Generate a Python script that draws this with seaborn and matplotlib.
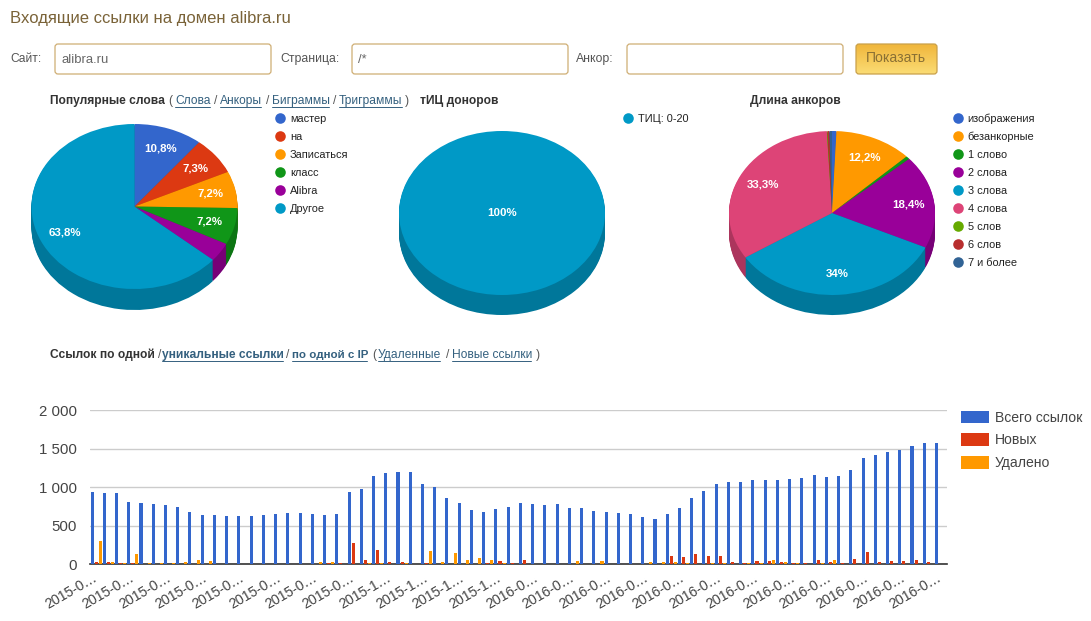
import numpy as np
import pandas as pd
import seaborn as sns
import matplotlib
matplotlib.use("Agg")
import matplotlib.pyplot as plt
from matplotlib.colors import to_rgb, LinearSegmentedColormap
from matplotlib.patches import FancyBboxPatch

W, H = 1091, 621

# pies
words_labels = ["мастер", "на", "Записаться", "класс", "Alibra", "Другое"]
words_values = [10.8, 7.3, 7.2, 7.2, 3.7, 63.8]
words_colors = ["#3366cc", "#dc3912", "#ff9900", "#109618", "#990099", "#0099c6"]

tic_labels = ["ТИЦ: 0-20"]
tic_values = [100]
tic_colors = ["#0099c6"]

length_labels = ["изображения", "безанкорные", "1 слово", "2 слова", "3 слова",
                 "4 слова", "5 слов", "6 слов", "7 и более"]
length_values = [0.7, 12.2, 0.6, 18.4, 34, 33.3, 0.1, 0.3, 0.4]
length_colors = ["#3366cc", "#ff9900", "#109618", "#990099", "#0099c6",
                 "#dd4477", "#66aa00", "#b82e2e", "#316395"]

# bars
total_links = [940, 926, 926, 810, 797, 784, 770, 745, 680, 640, 640, 628, 628, 628,
               640, 654, 667, 667, 654, 640, 654, 940, 978, 1147, 1186, 1199, 1199, 1043,
               1004, 861, 797, 706, 680, 719, 745, 797, 784, 770, 784, 732, 732, 693,
               680, 667, 654, 615, 589, 654, 732, 861, 952, 1043, 1069, 1069, 1095, 1095,
               1095, 1108, 1121, 1160, 1134, 1147, 1225, 1381, 1420, 1459, 1485, 1537, 1576, 1576]
new_links = [30, 30, 18, 20, 3, 2, 8, 0, 0, 0, 0, 0, 0, 0,
             0, 8, 0, 0, 0, 18, 15, 280, 55, 190, 30, 28, 10, 15,
             0, 0, 0, 0, 20, 45, 18, 55, 0, 0, 6, 0, 0, 0,
             0, 0, 0, 0, 5, 105, 95, 135, 108, 108, 30, 22, 40, 40,
             28, 18, 18, 55, 35, 15, 70, 160, 35, 40, 40, 55, 28, 0]
removed_links = [303, 30, 22, 135, 22, 12, 15, 30, 55, 42, 0, 0, 4, 0,
                 8, 0, 4, 0, 25, 30, 0, 0, 15, 15, 0, 15, 5, 170,
                 28, 145, 55, 80, 55, 15, 0, 8, 5, 6, 6, 40, 0, 40,
                 8, 8, 10, 28, 25, 28, 22, 0, 12, 12, 0, 22, 15, 55,
                 28, 12, 5, 20, 55, 0, 0, 0, 0, 8, 8, 0, 0, 0]
series_names = ["Всего ссылок", "Новых", "Удалено"]
series_colors = ["#3366cc", "#dc3912", "#ff9900"]
tick_labels = ["2015-0…"] * 8 + ["2015-1…"] * 4 + ["2016-0…"] * 12
y_ticks = [0, 500, 1000, 1500, 2000]
y_labels = ["0", "500", "1 000", "1 500", "2 000"]

sns.set_style("white")
plt.rcParams["font.family"] = ["Liberation Sans", "DejaVu Sans"]

fig = plt.figure(figsize=(W / 100, H / 100), dpi=100)


def px(size):
    return size * 0.72


def axes_px(x0, y0, x1, y1):
    # pixel box with y going down, like the page
    return fig.add_axes([x0 / W, 1 - y1 / H, (x1 - x0) / W, (y1 - y0) / H])


page = axes_px(0, 0, W, H)
page.set_xlim(0, W)
page.set_ylim(H, 0)
page.axis("off")


def label(x, y, s, size=12, color="#555555", weight="normal", ha="left"):
    return page.text(x, y, s, fontsize=px(size), color=color, fontweight=weight, ha=ha, va="center")


def link(x, y, s, size=12, weight="normal"):
    t = label(x, y, s, size, "#34607f", weight)
    box = t.get_window_extent(fig.canvas.get_renderer())
    page.plot([x, x + box.width - 1], [y + 5.5, y + 5.5], color="#34607f", lw=0.7)


def field(x0, x1, text=""):
    page.add_patch(FancyBboxPatch((x0 + 3, 47), x1 - x0 - 6, 24, boxstyle="round,pad=3",
                                  fc="white", ec="#cfae74", lw=0.9))
    if text:
        label(x0 + 6, 60, text, 13, "#666666")


def pie_3d(cx, cy, ry, depth, values, colors):
    rx = 103
    ax = axes_px(cx - rx, cy - ry, cx + rx, cy + ry + depth)
    dark = [tuple(c * 0.78 for c in to_rgb(col)) for col in colors]
    props = dict(startangle=90, counterclock=False, wedgeprops=dict(lw=0))
    # side of the pie: same slices stacked downwards in a darker colour
    for shift in np.arange(depth, 0, -1) / ry:
        ax.pie(values, colors=dark, center=(0, -shift), radius=1, **props)

    def pct(p):
        if p < 5:
            return ""
        return f"{p:.1f}".rstrip("0").rstrip(".").replace(".", ",") + "%"

    dist = 0 if len(values) == 1 else 0.75
    _, _, autotexts = ax.pie(values, colors=colors, center=(0, 0), radius=1,
                             autopct=pct, pctdistance=dist, **props)
    for t in autotexts:
        t.set(color="white", fontweight="bold", fontsize=px(11.5), ha="center", va="center")
    ax.set_aspect("auto")
    ax.set_xlim(-1, 1)
    ax.set_ylim(-1 - depth / ry, 1)
    return ax


def dot_legend(x, y0, names, colors):
    for i, (name, col) in enumerate(zip(names, colors)):
        page.scatter([x], [y0 + i * 18], s=58, color=col, linewidths=0)
        label(x + 10, y0 + i * 18 + 0.7, name, 11, "#222222")


# header and form
label(10, 18, "Входящие ссылки на домен alibra.ru", 16.6, "#7a6338")
label(10, 59, "Сайт:", 12)
field(55, 271, "alibra.ru")
label(280, 59, "Страница:", 12.3)
field(352, 568, "/*")
label(576, 59, "Анкор:", 12.3)
field(627, 843)

# button with a vertical gradient
button_cmap = LinearSegmentedColormap.from_list("button", ["#f0b63c", "#fbdc74"])
frame = FancyBboxPatch((859, 47), 75, 24, boxstyle="round,pad=3", fc="none", ec="#c9a04a", lw=0.9, zorder=3)
page.add_patch(frame)
shade = page.imshow(np.linspace(0, 1, 30)[:, None], cmap=button_cmap, extent=(856, 937, 44, 74),
                    origin="lower", aspect="auto", zorder=2)
shade.set_clip_path(frame)
page.set_xlim(0, W)
page.set_ylim(H, 0)
label(896, 58.5, "Показать", 14, "#8a7034", ha="center").set_zorder(4)

# pie headings
label(50, 101, "Популярные слова", 12, "#333333", "bold")
label(168, 101, "(", 12)
link(175, 101, "Слова")
label(214, 101, "/", 12)
link(220, 101, "Анкоры")
label(266, 101, "/", 12)
link(272, 101, "Биграммы")
label(333, 101, "/", 12)
link(339, 101, "Триграммы")
label(405, 101, ")", 12)
label(420, 101, "тИЦ доноров", 12, "#333333", "bold")
label(750, 101, "Длина анкоров", 12, "#333333", "bold")

pie_3d(134.5, 206.5, 82.5, 21, words_values, words_colors)
pie_3d(502, 213, 82, 20, tic_values, tic_colors)
pie_3d(832, 213, 82, 20, length_values, length_colors)
dot_legend(280, 118, words_labels, words_colors)
dot_legend(627.5, 118, tic_labels, tic_colors)
dot_legend(957.5, 118, length_labels, length_colors)

# bar chart heading
label(50, 355, "Ссылок по одной", 12, "#333333", "bold")
label(158, 355, "/", 12)
link(162, 355, "уникальные ссылки", 12, "bold")
label(286, 355, "/", 12)
link(292, 355, "по одной с IP", 11.5, "bold")
label(372, 355, "(", 12)
link(378, 355, "Удаленные")
label(446, 355, "/", 12)
link(452, 355, "Новые ссылки")
label(536, 355, ")", 12)

# bar chart
periods = list(range(len(total_links)))
df = pd.DataFrame({"period": periods, series_names[0]: total_links,
                   series_names[1]: new_links, series_names[2]: removed_links})
long_df = df.melt(id_vars="period", var_name="series", value_name="links")

ax = axes_px(90, 410.3, 946.7, 564.3)
sns.barplot(data=long_df, x="period", y="links", hue="series", hue_order=series_names,
            palette=series_colors, saturation=1, width=1, gap=0.25, errorbar=None,
            linewidth=0, ax=ax, zorder=3)
ax.set_xlim(-0.5, len(periods) - 0.5)
ax.set_ylim(0, 2000)
ax.set_xlabel("")
ax.set_ylabel("")
ax.set_yticks(y_ticks, y_labels, fontsize=px(15), color="#444444")
ax.set_xticks(periods[::3], tick_labels, fontsize=px(14), color="#444444", rotation=30,
              ha="right", va="center", rotation_mode="anchor")
ax.tick_params(axis="both", length=0)
ax.tick_params(axis="y", pad=9.5)
ax.tick_params(axis="x", pad=9)
ax.grid(axis="y", color="#cccccc", lw=1)
ax.set_axisbelow(True)
sns.despine(ax=ax, left=True, top=True, right=True)
ax.spines["bottom"].set(color="#333333", lw=1.2)
ax.patch.set_alpha(0)

handles, names = ax.get_legend_handles_labels()
ax.legend(handles, names, loc="upper left", bbox_to_anchor=(961 / W, 1 - 410.5 / H),
          bbox_transform=fig.transFigure, frameon=False, borderpad=0, borderaxespad=0,
          handlelength=2.0, handleheight=1.05, handletextpad=0.4, labelspacing=0.6,
          prop={"size": px(14)}, labelcolor="#444444")

fig.savefig("out.png", dpi=100)
